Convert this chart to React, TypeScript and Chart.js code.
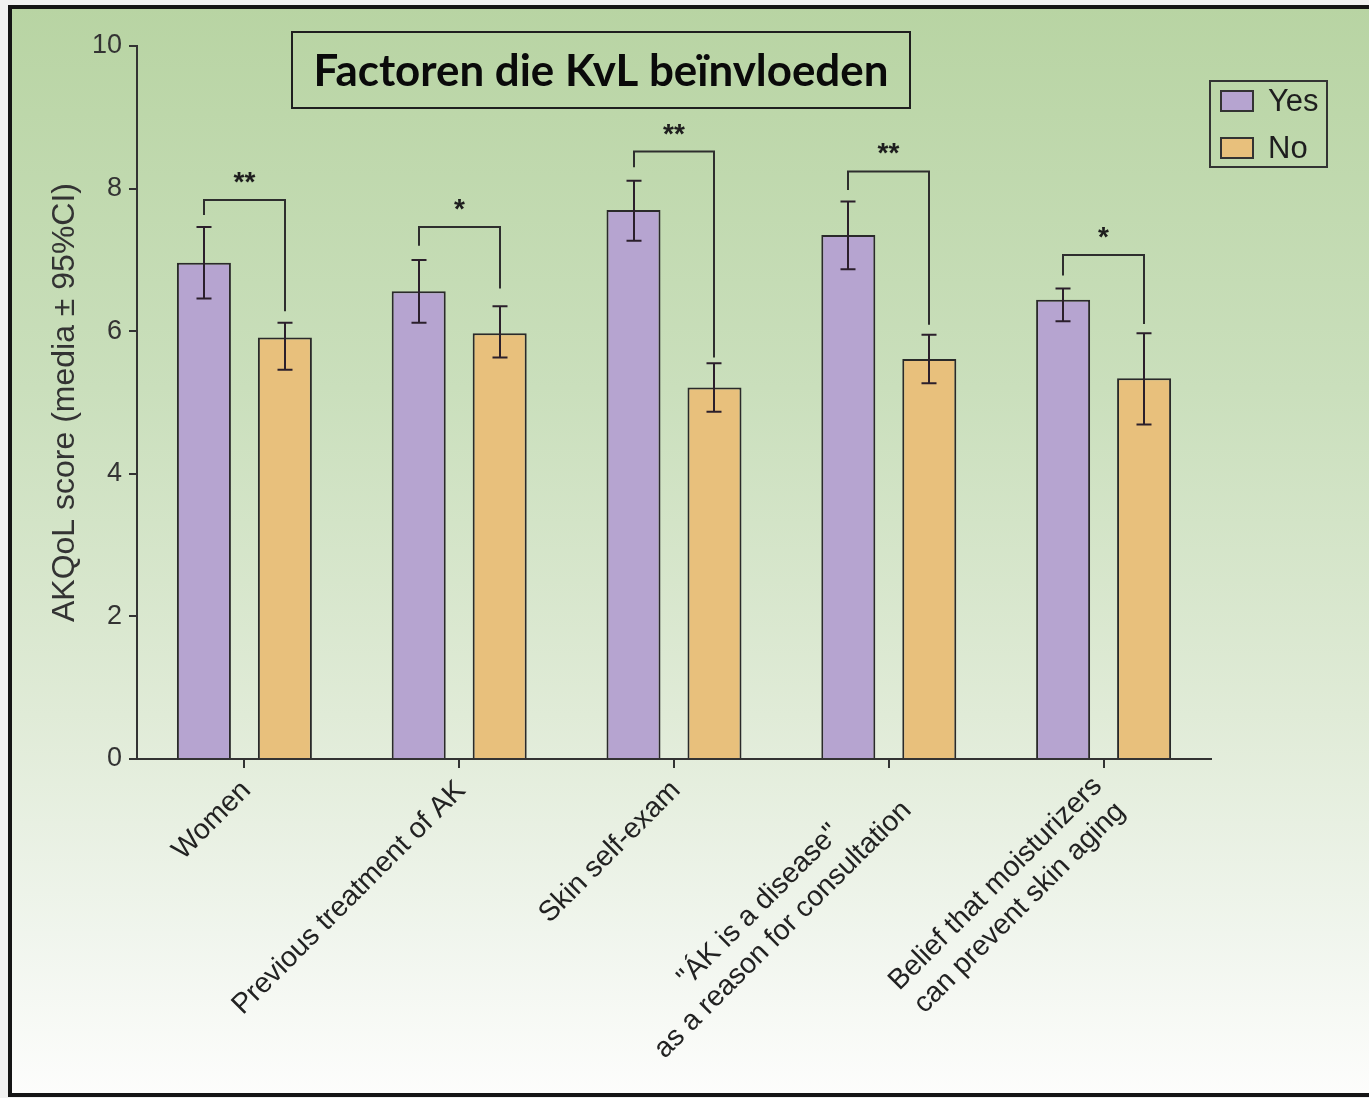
import React, { useEffect, useRef } from "react";
import { Chart, registerables } from "chart.js";

Chart.register(...registerables);

// ---------- data ----------
const categories: string[][] = [
  ["Women"],
  ["Previous treatment of AK"],
  ["Skin self-exam"],
  ['"ÁK is a disease"', "as a reason for consultation"],
  ["Belief that moisturizers", "can prevent skin aging"],
];
const seriesNames = ["Yes", "No"];
const yesMean = [6.96, 6.56, 7.70, 7.35, 6.44];
const yesLow = [6.46, 6.12, 7.27, 6.87, 6.14];
const yesHigh = [7.46, 7.00, 8.11, 7.82, 6.60];
const noMean = [5.91, 5.97, 5.21, 5.61, 5.34];
const noLow = [5.46, 5.63, 4.87, 5.27, 4.69];
const noHigh = [6.12, 6.35, 5.55, 5.95, 5.97];
const bracketTop = [7.84, 7.46, 8.52, 8.24, 7.07];
const bracketLeftEnd = [7.63, 7.20, 8.30, 7.98, 6.78];
const bracketRightEnd = [6.28, 6.60, 5.63, 6.09, 6.10];
const significance = ["**", "*", "**", "**", "*"];
const yMin = 0;
const yMax = 10;
const yStep = 2;
const chartTitle = "Factoren die KvL beïnvloeden";
const yAxisTitle = "AKQoL score (media ± 95%CI)";

// ---------- styles ----------
const FONT = '"Liberation Sans", Arial, Helvetica, sans-serif';
const YES_COLOR = "#b6a4d0";
const NO_COLOR = "#e8c07c";
const INK = "#2a2a2a";

const backgroundPlugin = {
  id: "bgFrame",
  beforeDraw(chart: any) {
    const { ctx, width, height } = chart;
    ctx.save();
    ctx.fillStyle = "#f1f1f1";
    ctx.fillRect(0, 0, width, height);
    const g = ctx.createLinearGradient(0, 7, 0, height - 2);
    g.addColorStop(0, "#b8d4a3");
    g.addColorStop(0.35, "#cadfbc");
    g.addColorStop(0.65, "#e0ebd7");
    g.addColorStop(0.85, "#f0f5ed");
    g.addColorStop(1, "#fdfdfc");
    ctx.fillStyle = g;
    ctx.fillRect(10, 7, width, height - 9);
    ctx.restore();
  },
  afterDraw(chart: any) {
    const { ctx, width, height } = chart;
    ctx.save();
    ctx.strokeStyle = "#151515";
    ctx.lineWidth = 4;
    ctx.strokeRect(10, 7, width + 20, height - 10);
    ctx.restore();
  },
};

const errorBarPlugin = {
  id: "errorBars",
  afterDatasetsDraw(chart: any) {
    const { ctx } = chart;
    const y = chart.scales.y;
    ctx.save();
    ctx.strokeStyle = "#2b1f2b";
    ctx.lineWidth = 2;
    chart.data.datasets.forEach((ds: any, di: number) => {
      const meta = chart.getDatasetMeta(di);
      meta.data.forEach((bar: any, i: number) => {
        const x = Math.round(bar.x);
        const yl = y.getPixelForValue(ds.errLow[i]);
        const yh = y.getPixelForValue(ds.errHigh[i]);
        ctx.beginPath();
        ctx.moveTo(x, yl);
        ctx.lineTo(x, yh);
        ctx.moveTo(x - 7.5, yl);
        ctx.lineTo(x + 7.5, yl);
        ctx.moveTo(x - 7.5, yh);
        ctx.lineTo(x + 7.5, yh);
        ctx.stroke();
      });
    });
    ctx.restore();
  },
};

const bracketPlugin = {
  id: "brackets",
  afterDatasetsDraw(chart: any) {
    const { ctx } = chart;
    const y = chart.scales.y;
    const m0 = chart.getDatasetMeta(0);
    const m1 = chart.getDatasetMeta(1);
    ctx.save();
    ctx.strokeStyle = "#2e2e2e";
    ctx.lineWidth = 2;
    ctx.fillStyle = "#1e1e1e";
    ctx.font = `bold 28px ${FONT}`;
    ctx.textAlign = "center";
    ctx.textBaseline = "alphabetic";
    bracketTop.forEach((top, i) => {
      const xl = Math.round(m0.data[i].x);
      const xr = Math.round(m1.data[i].x);
      const yt = y.getPixelForValue(top);
      ctx.beginPath();
      ctx.moveTo(xl, y.getPixelForValue(bracketLeftEnd[i]));
      ctx.lineTo(xl, yt);
      ctx.lineTo(xr, yt);
      ctx.lineTo(xr, y.getPixelForValue(bracketRightEnd[i]));
      ctx.stroke();
      ctx.fillText(significance[i], (xl + xr) / 2, yt - 9);
    });
    ctx.restore();
  },
};

const xLabelPlugin = {
  id: "xLabels",
  afterDraw(chart: any) {
    const { ctx, chartArea } = chart;
    const x = chart.scales.x;
    ctx.save();
    ctx.font = `28.5px ${FONT}`;
    ctx.fillStyle = "#222";
    const ang = (45 * Math.PI) / 180;
    const lineH = 34;
    categories.forEach((lines, i) => {
      const px = x.getPixelForValue(i);
      const bw = Math.max(...lines.map((l) => ctx.measureText(l).width));
      const n = lines.length;
      ctx.save();
      ctx.translate(px + 2 + (n - 1) * 4, chartArea.bottom + 27 + (n - 1) * 8);
      ctx.rotate(-ang);
      ctx.textAlign = "center";
      ctx.textBaseline = "middle";
      lines.forEach((l, j) => ctx.fillText(l, -bw / 2, (j - (n - 1) / 2) * lineH));
      ctx.restore();
    });
    ctx.restore();
  },
};

const titleLegendPlugin = {
  id: "titleLegend",
  afterDraw(chart: any) {
    const { ctx } = chart;
    ctx.save();
    // title box
    ctx.strokeStyle = "#1f1f1f";
    ctx.lineWidth = 2;
    ctx.strokeRect(292, 32, 618, 76);
    let size = 40;
    ctx.font = `bold ${size}px Lato, "Open Sans", sans-serif`;
    const w = ctx.measureText(chartTitle).width;
    size = (size * 575) / w;
    ctx.font = `bold ${size}px Lato, "Open Sans", sans-serif`;
    ctx.fillStyle = "#0a0a0a";
    ctx.textAlign = "center";
    ctx.textBaseline = "alphabetic";
    ctx.fillText(chartTitle, 601, 86);

    // legend box
    ctx.strokeStyle = "#333";
    ctx.lineWidth = 2;
    ctx.strokeRect(1210, 81, 117, 86);
    const colors = chart.data.datasets.map((d: any) => d.backgroundColor);
    chart.data.datasets.forEach((d: any, i: number) => {
      const yTop = 91 + i * 47;
      ctx.fillStyle = colors[i];
      ctx.fillRect(1221, yTop, 32, 20);
      ctx.strokeStyle = "#333";
      ctx.strokeRect(1221, yTop, 32, 20);
      ctx.fillStyle = "#1e1e1e";
      ctx.font = `31px ${FONT}`;
      ctx.textAlign = "left";
      ctx.textBaseline = "middle";
      ctx.fillText(d.label, 1268, yTop + 11);
    });
    ctx.restore();
  },
};

export default function App() {
  const ref = useRef<HTMLCanvasElement>(null);
  useEffect(() => {
    const canvas = ref.current;
    if (!canvas) return;
    const chart = new Chart(canvas, {
      type: "bar",
      data: {
        labels: categories.map((c) => c.join(" ")),
        datasets: [
          {
            label: seriesNames[0],
            data: yesMean,
            backgroundColor: YES_COLOR,
            borderColor: INK,
            borderWidth: 2,
            categoryPercentage: 0.754,
            barPercentage: 0.667,
            errLow: yesLow,
            errHigh: yesHigh,
          } as any,
          {
            label: seriesNames[1],
            data: noMean,
            backgroundColor: NO_COLOR,
            borderColor: INK,
            borderWidth: 2,
            categoryPercentage: 0.754,
            barPercentage: 0.667,
            errLow: noLow,
            errHigh: noHigh,
          } as any,
        ],
      },
      options: {
        animation: false,
        responsive: true,
        maintainAspectRatio: false,
        layout: { padding: { left: 0, top: 46, right: 158, bottom: 339 } },
        plugins: {
          legend: { display: false },
          title: { display: false },
          tooltip: { enabled: false },
        },
        scales: {
          x: {
            type: "category",
            ticks: { display: false },
            grid: {
              display: true,
              drawOnChartArea: false,
              drawTicks: true,
              tickLength: 9,
              offset: false,
              color: "#333",
              lineWidth: 2,
            },
            border: { display: true, color: "#333", width: 2 },
            afterFit: (s: any) => {
              s.height = 0;
            },
          },
          y: {
            min: yMin,
            max: yMax,
            ticks: { stepSize: yStep, font: { family: FONT, size: 27 }, color: "#333", padding: 7 },
            grid: {
              drawOnChartArea: false,
              drawTicks: true,
              tickLength: 8,
              color: "#333",
              lineWidth: 2,
            },
            border: { display: true, color: "#333", width: 2 },
            title: {
              display: true,
              text: yAxisTitle,
              font: { family: FONT, size: 32 },
              color: "#333",
              padding: { top: 46, bottom: 0 },
            },
            afterFit: (s: any) => {
              s.width = 137;
            },
          },
        },
      } as any,
      plugins: [backgroundPlugin, errorBarPlugin, bracketPlugin, xLabelPlugin, titleLegendPlugin],
    });
    return () => chart.destroy();
  }, []);
  return (
    <div style={{ position: "absolute", left: 0, top: 0, width: 1369, height: 1098, overflow: "hidden" }}>
      <canvas ref={ref} />
    </div>
  );
}
